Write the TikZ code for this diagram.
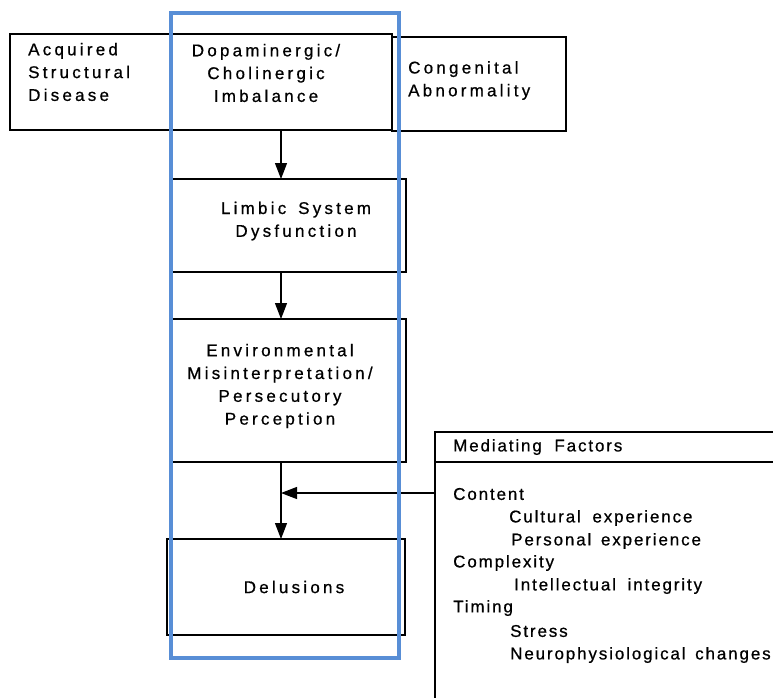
\documentclass[tikz,border=0pt]{standalone}
\usepackage{fontspec}
\setmainfont{Liberation Sans}
\newfontfamily\chartfont{Liberation Sans}[LetterSpace=19,FakeBold=0.7]
\newfontfamily\listfont{Liberation Sans}[LetterSpace=11,FakeBold=0.7]
\usetikzlibrary{arrows.meta}
\definecolor{frameblue}{RGB}{88,142,214}
\begin{document}
\begin{tikzpicture}[x=1pt,y=-1pt,
  box/.style={draw, line width=1.2pt, anchor=north west, inner sep=0pt, outer sep=0pt},
  lbl/.style={font=\chartfont\fontsize{17}{22.8}\selectfont, inner sep=0pt},
  item/.style={font=\listfont\fontsize{17}{20}\selectfont, anchor=west, inner sep=0pt},
  arr/.style={line width=1.2pt, -{Triangle[length=16pt,width=12pt]}}]
\clip (0,0) rectangle (773,697);

% boxes
\node[box, minimum width=382pt, minimum height=96pt] (topbox) at (10,34) {};
\node[box, minimum width=174pt, minimum height=94pt] (cong) at (392,37) {};
\node[box, minimum width=236pt, minimum height=93pt] (limbic) at (170,179) {};
\node[box, minimum width=236pt, minimum height=143pt] (env) at (170,319) {};
\node[box, minimum width=238pt, minimum height=96pt] (delus) at (167,539) {};
\node[box, minimum width=360pt, minimum height=300pt] (med) at (435,432) {};
\coordinate (hdr) at (0,462);
\draw[line width=1.2pt] (med.west |- hdr) -- (med.east |- hdr);

% box labels
\node[lbl, anchor=west, align=left] (acq) at (28,72) {Acquired\\Structural\\Disease};
\node[lbl, align=center] (dop) at (266,73) {Dopaminergic/\\Cholinergic\\Imbalance};
\node[lbl, anchor=west, align=left] (congtxt) at (408,80.5) {Congenital\\Abnormality};
\node[lbl, align=center] (limtxt) at (296,221) {Limbic\hspace{4pt} System\\Dysfunction};
\node[lbl, align=center] (envtxt) at (280,386) {Environmental\\Misinterpretation/\\Persecutory\\Perception};
\node[lbl] (deltxt) at (294,587) {Delusions};

% mediating factors
\node[item] (medhead) at (453,447) {Mediating\hspace{6pt} Factors};
\node[item] (i1) at (453,494) {Content};
\node[item] (i2) at (509,518) {Cultural\hspace{5pt} experience};
\node[item] (i3) at (511,541) {Personal\hspace{3pt} experience};
\node[item] (i4) at (453,563) {Complexity};
\node[item] (i5) at (514,586) {Intellectual\hspace{5pt} integrity};
\node[item] (i6) at (453,608) {Timing};
\node[item] (i7) at (510,631) {Stress};
\node[item] (i8) at (510,655) {Neurophysiological\hspace{3pt} changes};

% connectors
\coordinate (spine) at (281,0);
\draw[arr] (topbox.south -| spine) -- (limbic.north -| spine);
\draw[arr] (limbic.south -| spine) -- (env.north -| spine);
\draw[arr] (env.south -| spine) -- (delus.north -| spine);
\coordinate (fb) at (281,493);
\draw[arr] (med.west |- fb) -- (fb);

% highlight frame
\draw[frameblue, line width=4.5pt] (171,13) rectangle (399,658);
\end{tikzpicture}
\end{document}
